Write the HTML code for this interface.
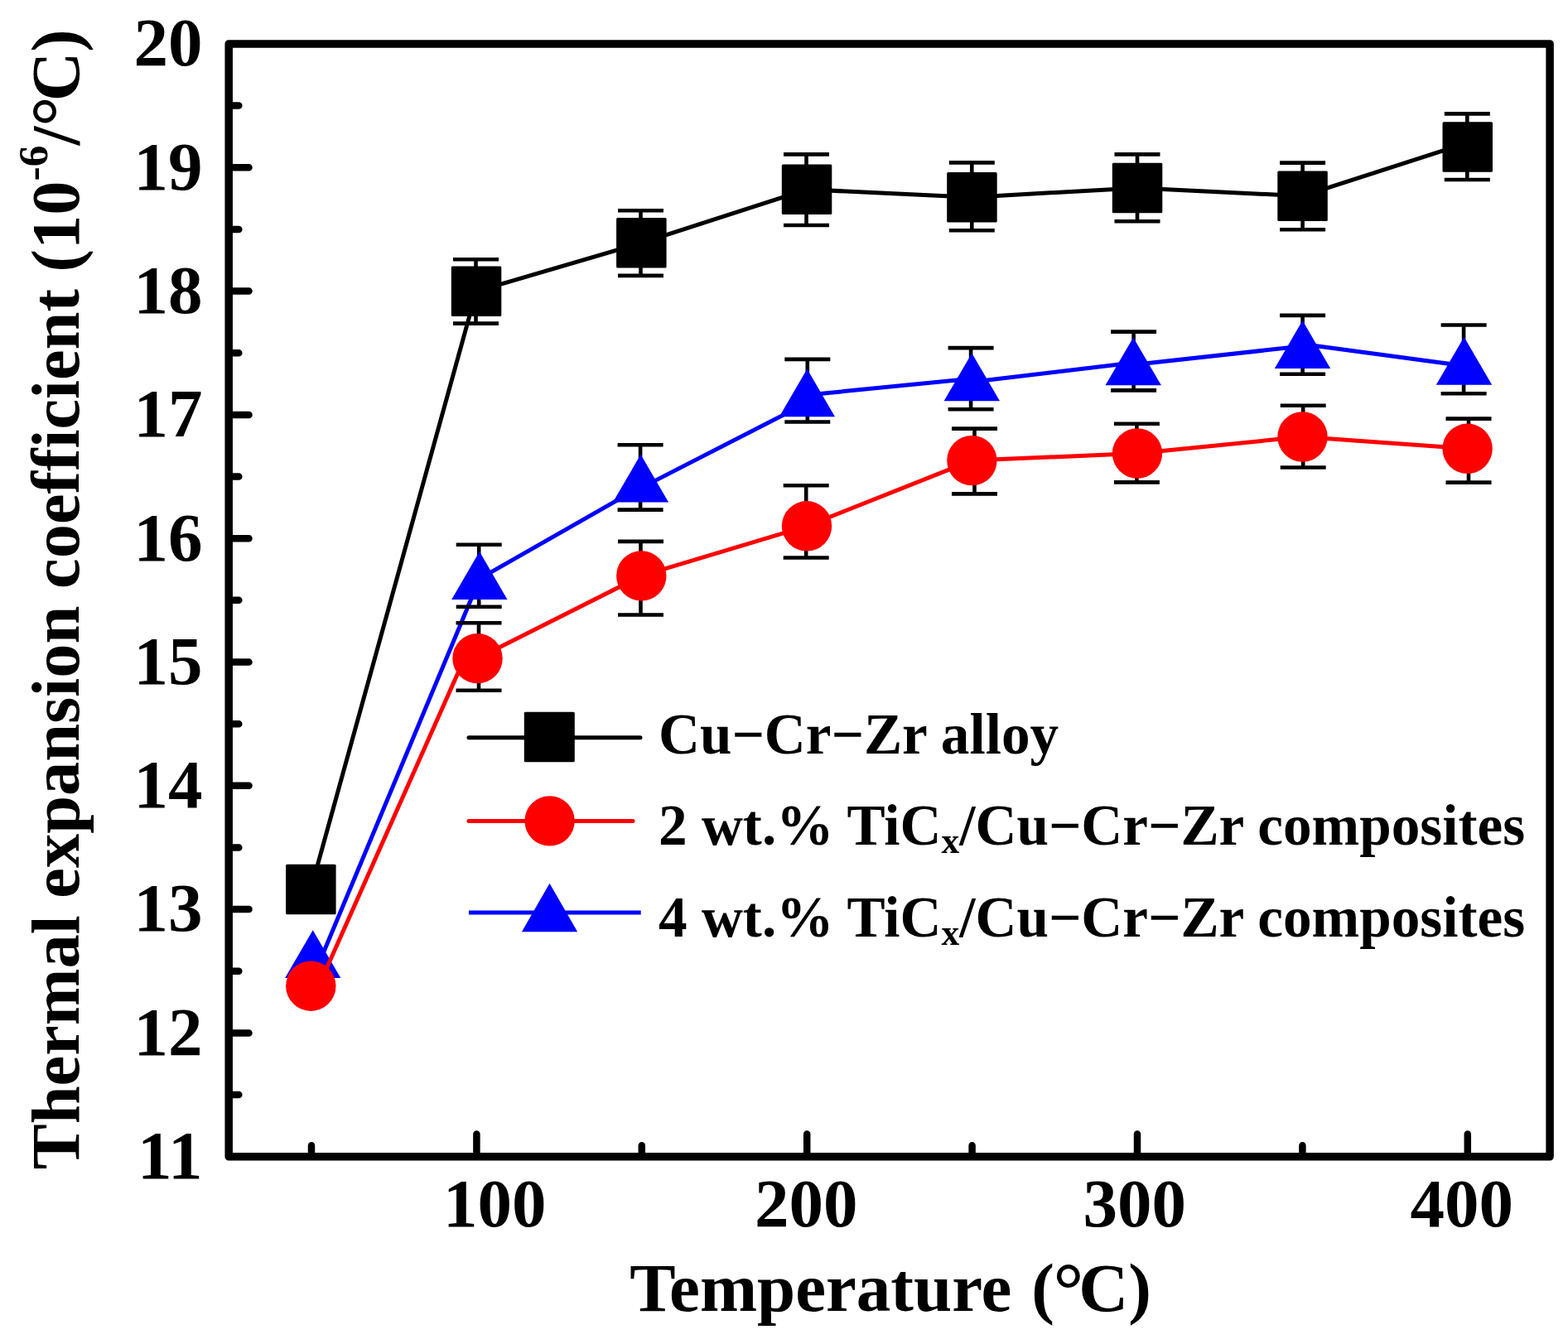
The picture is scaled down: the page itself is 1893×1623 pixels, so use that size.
<!DOCTYPE html>
<html><head><meta charset="utf-8"><title>Thermal expansion coefficient</title>
<style>html,body{margin:0;padding:0;background:#fff;width:1893px;height:1623px;overflow:hidden}svg{display:block}</style>
</head><body>
<svg width="1893" height="1623" viewBox="0 0 1893 1623">
<rect width="100%" height="100%" fill="#fff"/>
<polyline points="375.3,1073.9 575.0,351.9 774.4,293.4 974.0,228.8 1173.5,238.2 1373.0,226.9 1572.6,236.7 1771.7,172.4" fill="none" stroke="#000" stroke-width="5" stroke-linejoin="round"/>
<path d="M574.5,313.3V390.6M547.0,313.3h55M547.0,390.6h55M773.5,254.3V332.9M746.0,254.3h55M746.0,332.9h55M973.5,186.4V272.0M946.0,186.4h55M946.0,272.0h55M1173.3,196.4V278.2M1145.8,196.4h55M1145.8,278.2h55M1373.0,186.4V267.2M1345.5,186.4h55M1345.5,267.2h55M1572.6,196.6V277.2M1545.1,196.6h55M1545.1,277.2h55M1771.3,137.4V217.0M1743.8,137.4h55M1743.8,217.0h55" fill="none" stroke="#000" stroke-width="4.6"/>
<rect x="345.1" y="1043.7" width="60.5" height="60.5" rx="1.5" fill="#000"/>
<rect x="544.8" y="321.6" width="60.5" height="60.5" rx="1.5" fill="#000"/>
<rect x="744.1" y="263.1" width="60.5" height="60.5" rx="1.5" fill="#000"/>
<rect x="943.8" y="198.6" width="60.5" height="60.5" rx="1.5" fill="#000"/>
<rect x="1143.2" y="207.9" width="60.5" height="60.5" rx="1.5" fill="#000"/>
<rect x="1342.8" y="196.7" width="60.5" height="60.5" rx="1.5" fill="#000"/>
<rect x="1542.3" y="206.4" width="60.5" height="60.5" rx="1.5" fill="#000"/>
<rect x="1741.5" y="147.3" width="60.5" height="60.5" rx="1.5" fill="#000"/>
<path d="M377.7,1181L578.9,699.3M578.9,698.8L773.5,588M773.5,589.4L974.4,486.4M974.4,477L1173.3,457.2M1173.3,461.3L1368.2,437.9M1368.2,440.5L1572.5,418M1572.5,415.5L1767.5,441.8" fill="none" stroke="#00f" stroke-width="5"/>
<path d="M578.2,657.8V732.7M550.7,657.8h55M550.7,732.7h55M773.1,537.2V615.6M745.6,537.2h55M745.6,615.6h55M974.8,433.9V509.5M947.3,433.9h55M947.3,509.5h55M1172.1,420.1V494.2M1144.6,420.1h55M1144.6,494.2h55M1368.6,400.6V471.4M1341.1,400.6h55M1341.1,471.4h55M1572.6,380.9V451.7M1545.1,380.9h55M1545.1,451.7h55M1767.1,392.5V475.3M1739.6,392.5h55M1739.6,475.3h55" fill="none" stroke="#000" stroke-width="4.6"/>
<polygon points="377.7,1123.3 411.3,1181.1 344.1,1181.1" fill="#00f"/>
<polygon points="578.9,666.1 612.5,723.9 545.2,723.9" fill="#00f"/>
<polygon points="773.5,548.8 807.1,606.6 739.9,606.6" fill="#00f"/>
<polygon points="974.4,445.4 1008.0,503.2 940.8,503.2" fill="#00f"/>
<polygon points="1173.3,426.4 1207.0,484.2 1139.6,484.2" fill="#00f"/>
<polygon points="1368.2,407.5 1401.9,465.3 1334.5,465.3" fill="#00f"/>
<polygon points="1572.5,387.1 1606.2,444.9 1538.8,444.9" fill="#00f"/>
<polygon points="1767.5,406.9 1801.2,464.7 1733.8,464.7" fill="#00f"/>
<path d="M385,1190.3L560.7,795" fill="none" stroke="#f00" stroke-width="5"/>
<polyline points="576.5,795.1 774.3,695.4 974.0,635.3 1173.4,556.1 1373.0,547.5 1572.5,527.5 1771.6,541.8" fill="none" stroke="#f00" stroke-width="5" stroke-linejoin="round"/>
<path d="M578.0,752.3V833.7M550.5,752.3h55M550.5,833.7h55M773.5,653.9V742.5M746.0,653.9h55M746.0,742.5h55M973.2,586.2V673.5M945.7,586.2h55M945.7,673.5h55M1176.5,517.6V596.4M1149.0,517.6h55M1149.0,596.4h55M1372.4,511.7V582.4M1344.9,511.7h55M1344.9,582.4h55M1573.2,489.8V564.5M1545.7,489.8h55M1545.7,564.5h55M1773.0,505.6V582.6M1745.5,505.6h55M1745.5,582.6h55" fill="none" stroke="#000" stroke-width="4.6"/>
<circle cx="375.3" cy="1190.7" r="30.2" fill="#f00"/>
<circle cx="576.5" cy="795.1" r="30.2" fill="#f00"/>
<circle cx="774.3" cy="695.4" r="30.2" fill="#f00"/>
<circle cx="974.0" cy="635.3" r="30.2" fill="#f00"/>
<circle cx="1173.4" cy="556.1" r="30.2" fill="#f00"/>
<circle cx="1373.0" cy="547.5" r="30.2" fill="#f00"/>
<circle cx="1572.5" cy="527.5" r="30.2" fill="#f00"/>
<circle cx="1771.6" cy="541.8" r="30.2" fill="#f00"/>
<rect x="276.2" y="52.9" width="1594.9" height="1343.9" fill="none" stroke="#000" stroke-width="9.5" stroke-linejoin="round"/>
<path d="M276.2,1322.1h12.1M276.2,1247.5h24.3M276.2,1172.8h12.1M276.2,1098.1h24.3M276.2,1023.5h12.1M276.2,948.8h24.3M276.2,874.2h12.1M276.2,799.5h24.3M276.2,724.8h12.1M276.2,650.2h24.3M276.2,575.5h12.1M276.2,500.9h24.3M276.2,426.2h12.1M276.2,351.5h24.3M276.2,276.9h12.1M276.2,202.2h24.3M276.2,127.6h12.1M376.0,1396.8v-13.6M575.4,1396.8v-27.4M774.8,1396.8v-13.6M974.2,1396.8v-27.4M1173.6,1396.8v-13.6M1373.0,1396.8v-27.4M1572.4,1396.8v-13.6M1771.8,1396.8v-27.4" stroke="#000" stroke-width="8.5" stroke-linecap="round" fill="none"/>
<g style="font-family:'Liberation Serif','Times New Roman',serif;font-weight:bold" fill="#000">
<text x="244.5" y="1423.1" font-size="83" text-anchor="end">11</text>
<text x="244.5" y="1273.8" font-size="83" text-anchor="end">12</text>
<text x="244.5" y="1124.4" font-size="83" text-anchor="end">13</text>
<text x="244.5" y="975.1" font-size="83" text-anchor="end">14</text>
<text x="244.5" y="825.8" font-size="83" text-anchor="end">15</text>
<text x="244.5" y="676.5" font-size="83" text-anchor="end">16</text>
<text x="244.5" y="527.2" font-size="83" text-anchor="end">17</text>
<text x="244.5" y="377.8" font-size="83" text-anchor="end">18</text>
<text x="244.5" y="228.5" font-size="83" text-anchor="end">19</text>
<text x="244.5" y="79.2" font-size="83" text-anchor="end">20</text>
<text x="597.2" y="1481" font-size="83" text-anchor="middle">100</text>
<text x="973.3" y="1481" font-size="83" text-anchor="middle">200</text>
<text x="1369.8" y="1481" font-size="83" text-anchor="middle">300</text>
<text x="1764.8" y="1481" font-size="83" text-anchor="middle">400</text>
<text x="760.3" y="1582.6" font-size="83">Temperature <tspan x="1245.3">(</tspan><tspan x="1271.4" font-size="92" dy="5.6">°</tspan><tspan x="1302.3" dy="-5.6">C)</tspan></text>
<g transform="translate(95,0) rotate(-90)">
<text x="-1412.3" y="0" font-size="82.5">Thermal expansion coefficient (10<tspan font-size="51.5" dy="-38">-6</tspan><tspan dy="38">/</tspan><tspan font-size="91" dy="5.6">°</tspan><tspan dy="-5.6" dx="-6">C)</tspan></text>
</g>
<text x="795" y="909.9" font-size="69.2">Cu−Cr−Zr alloy</text>
<text x="795" y="1019.7" font-size="69.2">2 wt.% TiC<tspan font-size="43.4" dy="10.3">x</tspan><tspan dy="-10.3">/Cu−Cr−Zr composites</tspan></text>
<text x="795" y="1130.7" font-size="69.2">4 wt.% TiC<tspan font-size="43.4" dy="10.3">x</tspan><tspan dy="-10.3">/Cu−Cr−Zr composites</tspan></text>
</g>
<path d="M566,890.7H773" stroke="#000" stroke-width="5" stroke-linecap="round"/>
<rect x="632.8" y="859.8" width="61" height="60.5" rx="1.5" fill="#000"/>
<path d="M566,991.5H764" stroke="#f00" stroke-width="5" stroke-linecap="round"/>
<circle cx="663.6" cy="991.4" r="30.2" fill="#f00"/>
<path d="M566,1102H773.7" stroke="#00f" stroke-width="5"/>
<polygon points="663.5,1066.8 697.2,1125.2 629.9,1125.2" fill="#00f"/>
</svg>
</body></html>
